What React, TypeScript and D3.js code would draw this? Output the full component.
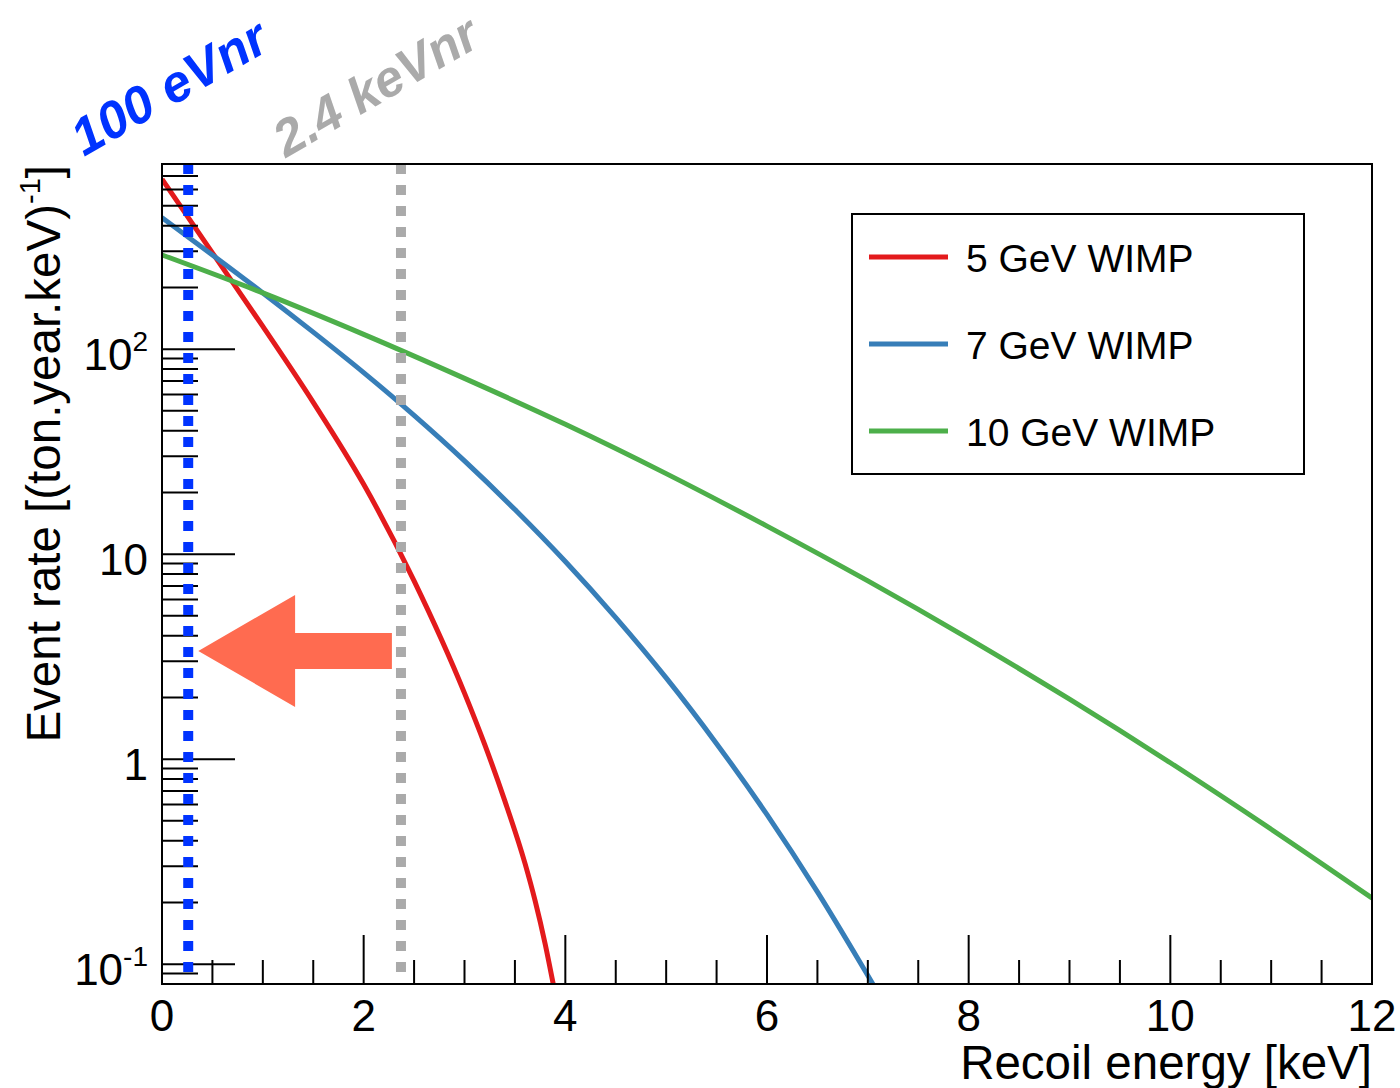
import React from "react";
import * as d3 from "d3";

// ---- data ----
const energyRed = [0, 0.5, 1.0, 1.5, 2.0, 2.5, 3.0, 3.2, 3.4, 3.6, 3.7, 3.8, 3.88];
const rateRed = [675, 295, 129, 55, 21.9, 7.41, 2.1, 1.18, 0.626, 0.31, 0.204, 0.1255, 0.08];

const energyBlue = [0, 0.5, 1.0, 1.5, 2.0, 2.5, 3.0, 3.5, 4.0, 4.5, 5.0, 5.5, 6.0, 6.5, 7.0, 7.05];
const rateBlue = [438, 288, 188, 121, 76.8, 47.5, 28.5, 16.5, 9.2, 4.9, 2.49, 1.19, 0.536, 0.225, 0.088, 0.08];

const energyGreen = [0, 1, 2, 3, 4, 5, 6, 7, 8, 9, 10, 11, 12];
const rateGreen = [288, 188, 118, 72, 43, 24.7, 13.7, 7.4, 3.87, 1.96, 0.96, 0.455, 0.21];

const seriesNames = ["5 GeV WIMP", "7 GeV WIMP", "10 GeV WIMP"];
const seriesColors = ["#e31a1c", "#377eb8", "#4daf4a"];

const xTickLabels = [0, 2, 4, 6, 8, 10, 12];
const yTickLabels = [
  { v: 0.1, base: "10", sup: "-1" },
  { v: 1, base: "1", sup: "" },
  { v: 10, base: "10", sup: "" },
  { v: 100, base: "10", sup: "2" },
];

const thresholdLow = 0.26; // "100 eVnr" line position on the axis
const thresholdHigh = 2.37; // "2.4 keVnr"
const arrowTipE = 0.36;
const arrowHeadE = 1.32;
const arrowTailE = 2.28;
const arrowRate = 3.37;

const FONT = "'Liberation Sans', Arial, Helvetica, sans-serif";

export default function App() {
  const L = 162, R = 1372, T = 164, B = 984;
  const x = d3.scaleLinear().domain([0, 12]).range([L, R]);
  const y = d3.scaleLog().domain([0.08, 800]).range([B, T]);

  const line = d3
    .line<[number, number]>()
    .x((d) => x(d[0]))
    .y((d) => y(d[1]))
    .curve(d3.curveMonotoneX);

  const series = [
    energyRed.map((e, i) => [e, rateRed[i]] as [number, number]),
    energyBlue.map((e, i) => [e, rateBlue[i]] as [number, number]),
    energyGreen.map((e, i) => [e, rateGreen[i]] as [number, number]),
  ];

  const yTicks = y.ticks();
  const xTicks = d3.range(0, 12.001, 0.5);

  const ay = y(arrowRate);
  const arrowPts = [
    [x(arrowTipE), ay],
    [x(arrowHeadE), ay - 56],
    [x(arrowHeadE), ay - 18],
    [x(arrowTailE), ay - 18],
    [x(arrowTailE), ay + 18],
    [x(arrowHeadE), ay + 18],
    [x(arrowHeadE), ay + 56],
  ]
    .map((p) => p.join(","))
    .join(" ");

  const legendYs = [257, 344, 431];

  return (
    <svg
      width={1400}
      height={1088}
      style={{ position: "absolute", left: 0, top: 0, background: "#fff" }}
      fontFamily={FONT}
    >
      <rect x={0} y={0} width={1400} height={1088} fill="#fff" />
      <defs>
        <clipPath id="plotclip">
          <rect x={L} y={T} width={R - L} height={B - T} />
        </clipPath>
      </defs>

      {/* curves */}
      <g clipPath="url(#plotclip)">
        {series.map((s, i) => (
          <path key={i} d={line(s) || ""} fill="none" stroke={seriesColors[i]} strokeWidth={5} />
        ))}
      </g>

      {/* ticks */}
      <g stroke="#000" strokeWidth={2}>
        {yTicks.map((t, i) => {
          const lg = Math.log10(t);
          const major = Math.abs(lg - Math.round(lg)) < 1e-6;
          return <line key={"y" + i} x1={L} x2={L + (major ? 73 : 36)} y1={y(t)} y2={y(t)} />;
        })}
        {xTicks.map((t, i) => {
          const major = Math.abs(t % 2) < 1e-6;
          return <line key={"x" + i} x1={x(t)} x2={x(t)} y1={B} y2={B - (major ? 49 : 24)} />;
        })}
      </g>

      {/* threshold lines */}
      <line x1={x(thresholdHigh)} x2={x(thresholdHigh)} y1={T} y2={B} stroke="#aaaaaa" strokeWidth={10} strokeDasharray="10 11" />
      <line x1={x(thresholdLow)} x2={x(thresholdLow)} y1={T} y2={B} stroke="#0033ff" strokeWidth={10} strokeDasharray="10 11" />

      {/* arrow */}
      <polygon points={arrowPts} fill="#ff6b50" />

      {/* frame */}
      <rect x={L} y={T} width={R - L} height={B - T} fill="none" stroke="#000" strokeWidth={2} />

      {/* x tick labels */}
      {xTickLabels.map((t) => (
        <text key={t} x={x(t)} y={1031} textAnchor="middle" fontSize={44} fill="#000">
          {t}
        </text>
      ))}
      {/* y tick labels */}
      {yTickLabels.map((t) => (
        <text key={t.v} x={148} y={y(t.v) + 21} textAnchor="end" fontSize={44} fill="#000">
          {t.base}
          {t.sup ? (
            <tspan dy={-19} fontSize={28}>
              {t.sup}
            </tspan>
          ) : null}
        </text>
      ))}

      {/* axis titles */}
      <text x={1372} y={1079} textAnchor="end" fontSize={47.5} fill="#000">
        Recoil energy [keV]
      </text>
      <text transform="translate(60,165) rotate(-90)" textAnchor="end" fontSize={47.5} fill="#000">
        Event rate [(ton.year.keV)
        <tspan dy={-20} fontSize={29}>-1</tspan>
        <tspan dy={20}>]</tspan>
      </text>

      {/* legend */}
      <rect x={852} y={214} width={452} height={260} fill="#fff" stroke="#000" strokeWidth={2} />
      {seriesNames.map((n, i) => (
        <g key={n}>
          <line x1={869} x2={948} y1={legendYs[i]} y2={legendYs[i]} stroke={seriesColors[i]} strokeWidth={5} />
          <text x={966} y={legendYs[i] + 15} fontSize={39} fill="#000">
            {n}
          </text>
        </g>
      ))}

      {/* threshold labels */}
      <text
        transform="translate(84,157) rotate(-30)"
        fontSize={52}
        fontWeight="bold"
        fontStyle="italic"
        fill="#0033ff"
      >
        100 eVnr
      </text>
      <text
        transform="translate(286,158) rotate(-30)"
        fontSize={51}
        fontWeight="bold"
        fontStyle="italic"
        fill="#aaaaaa"
      >
        2.4 keVnr
      </text>
    </svg>
  );
}
